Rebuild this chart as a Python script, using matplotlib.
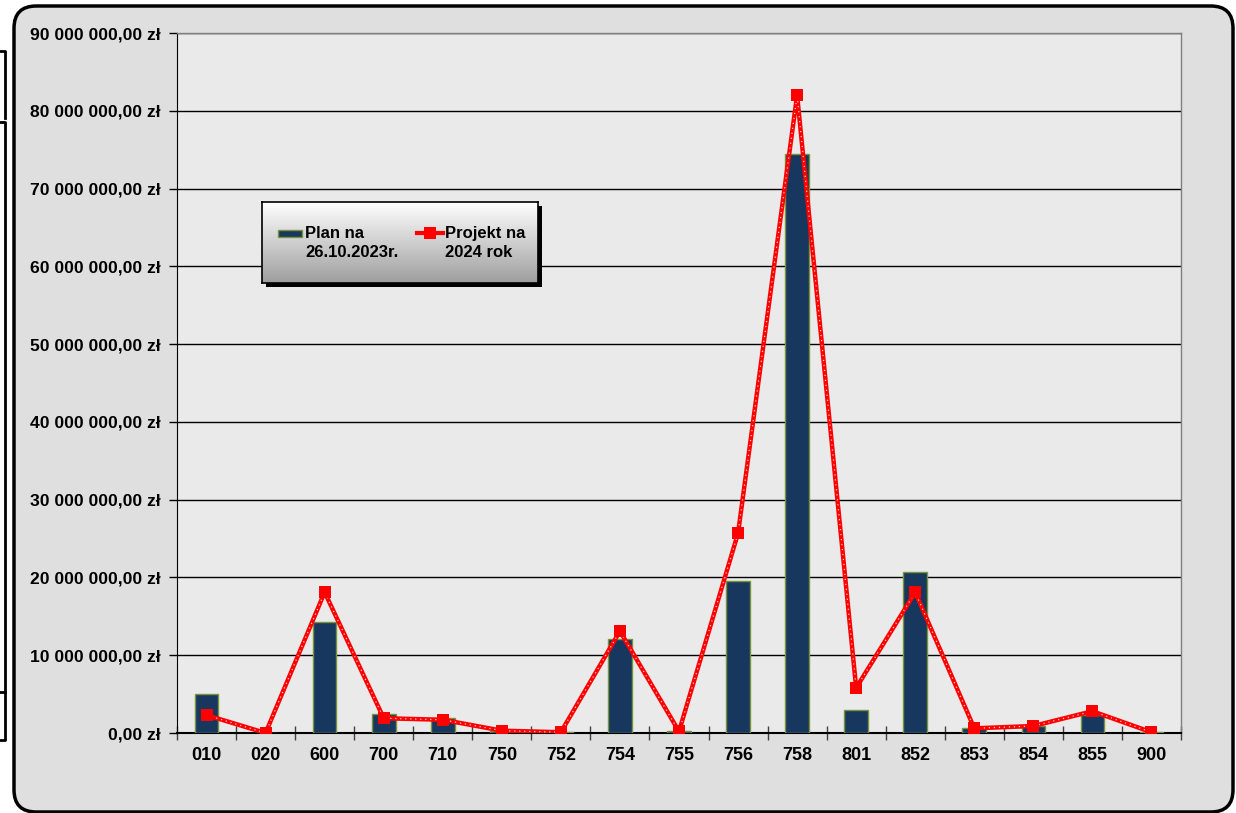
import matplotlib
matplotlib.use("Agg")
import matplotlib.pyplot as plt
import numpy as np
from matplotlib.patches import FancyBboxPatch, Rectangle
from matplotlib.lines import Line2D
from matplotlib.ticker import FuncFormatter, MultipleLocator

plt.rcParams['font.family'] = ['Liberation Sans', 'DejaVu Sans']

categories = ['010', '020', '600', '700', '710', '750', '752', '754', '755',
              '756', '758', '801', '852', '853', '854', '855', '900']
# values in millions of zł
plan = [5.0, 0.05, 14.3, 2.4, 1.9, 0.2, 0.1, 12.1, 0.2,
        19.5, 74.4, 3.0, 20.7, 0.6, 0.9, 2.3, 0.1]
projekt = [2.3, 0.0, 18.1, 1.9, 1.7, 0.3, 0.1, 13.1, 0.2,
           25.7, 82.0, 5.8, 18.1, 0.6, 0.9, 2.8, 0.1]
plan_label = 'Plan na\n26.10.2023r.'
projekt_label = 'Projekt na\n2024 rok'

W, H = 1236, 813
fig = plt.figure(figsize=(W / 100, H / 100), dpi=100)
fig.patch.set_facecolor('white')

# outer rounded frame
frame = FancyBboxPatch((14 / W, 1 - 812 / H), 1219 / W, 806 / H,
                       boxstyle='round,pad=0,rounding_size=0.018',
                       transform=fig.transFigure, facecolor='#dfdfdf',
                       edgecolor='black', linewidth=2.5, zorder=-5,
                       mutation_aspect=W / H)
fig.add_artist(frame)

# fragments of a neighbouring element on the left edge
def fig_line(xs, ys):
    fig.add_artist(Line2D([x / W for x in xs], [1 - y / H for y in ys],
                          transform=fig.transFigure, color='black', lw=2,
                          zorder=-4))

fig_line([0, 5, 5], [51, 51, 118])
fig_line([0, 5, 5], [122, 122, 692])
fig_line([0, 5, 5, 0], [692, 692, 740, 740])

ax = fig.add_axes([177 / W, 1 - 733 / H, 1004 / W, 700 / H], zorder=1)
ax.set_facecolor('#eaeaea')

x = np.arange(len(categories))
plan_v = np.array(plan) * 1e6
proj_v = np.array(projekt) * 1e6

ax.bar(x, plan_v, width=0.4, color='#17375e', edgecolor='#77933c',
       linewidth=1, zorder=3)
ax.plot(x, proj_v, color='#ff0000', lw=3.2, zorder=4, solid_capstyle='round')
ax.plot(x, proj_v, color='white', lw=0.9, dashes=(1, 3), alpha=0.8, zorder=5)
ax.plot(x, proj_v, linestyle='none', marker='s', markersize=9,
        color='#ff0000', markeredgewidth=0, zorder=6)

ax.set_xlim(-0.5, len(categories) - 0.5)
ax.set_ylim(0, 90e6)
ax.yaxis.set_major_locator(MultipleLocator(10e6))
ax.yaxis.set_major_formatter(FuncFormatter(
    lambda v, p: f"{v:,.2f}".replace(',', ' ').replace('.', ',') + ' zł'))
ax.grid(axis='y', color='black', lw=1, zorder=1)
ax.set_axisbelow(True)

ax.set_xticks(x)
ax.set_xticklabels(categories)
ax.set_xticks(np.arange(-0.5, len(categories)), minor=True)
ax.tick_params(axis='x', which='major', length=0, pad=10)
ax.tick_params(axis='x', which='minor', direction='inout', length=10,
               width=1, color='#404040')
ax.tick_params(axis='y', direction='out', length=6, width=1, pad=6)
for lab in ax.get_yticklabels():
    lab.set_fontweight('bold')
    lab.set_fontsize(12.6)
for lab in ax.get_xticklabels():
    lab.set_fontweight('bold')
    lab.set_fontsize(13)

for s in ['top', 'right']:
    ax.spines[s].set_color('#808080')
    ax.spines[s].set_linewidth(1)
ax.spines['left'].set_color('black')
ax.spines['bottom'].set_color('black')
ax.spines['bottom'].set_linewidth(1.5)

# legend box with gradient and shadow
lx0, ly0, lw_, lh = 262, 202, 276, 81
shadow = Rectangle(((lx0 + 4) / W, 1 - (ly0 + lh + 4) / H), lw_ / W, lh / H,
                   transform=fig.transFigure, facecolor='black',
                   edgecolor='none', zorder=9)
fig.add_artist(shadow)
lax = fig.add_axes([lx0 / W, 1 - (ly0 + lh) / H, lw_ / W, lh / H], zorder=10)
grad = np.linspace(1.0, 0.62, 100).reshape(-1, 1)
lax.imshow(np.dstack([grad, grad, grad]), aspect='auto',
           extent=[0, lw_, lh, 0], interpolation='bilinear')
lax.set_xlim(0, lw_)
lax.set_ylim(lh, 0)
lax.set_xticks([])
lax.set_yticks([])
for s in lax.spines.values():
    s.set_color('black')
    s.set_linewidth(1.2)

lax.add_patch(Rectangle((16, 28), 24, 7, facecolor='#17375e',
                        edgecolor='#77933c', lw=1))
lax.add_line(Line2D([155, 181], [31.5, 31.5], color='#ff0000', lw=3))
lax.plot([168], [31.5], marker='s', markersize=8, color='#ff0000',
         markeredgewidth=0)
for tx, label in [(43, plan_label), (183, projekt_label)]:
    for row, part in zip([31.5, 50.5], label.split('\n')):
        lax.text(tx, row, part, fontsize=12, fontweight='bold',
                 va='center', ha='left')

fig.savefig('out.png', dpi=100)
